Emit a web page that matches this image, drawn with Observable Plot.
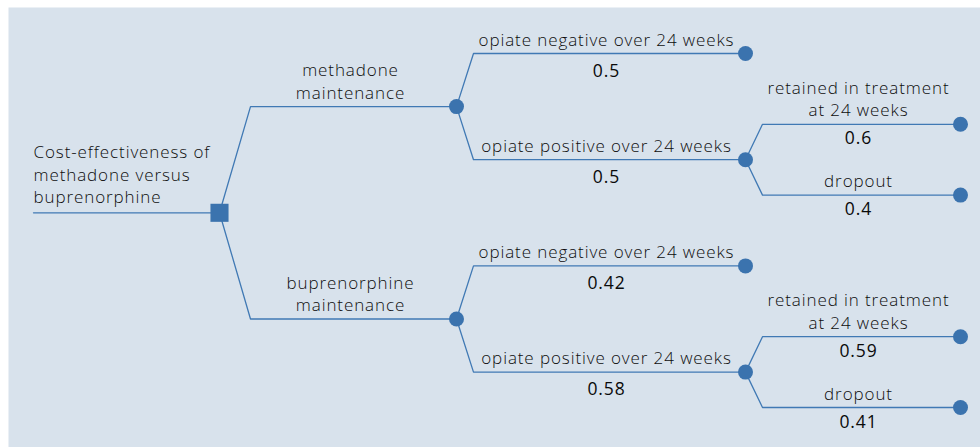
<!DOCTYPE html>
<html><head><meta charset="utf-8">
<script src="https://cdn.jsdelivr.net/npm/d3@7"></script>
<script src="https://cdn.jsdelivr.net/npm/@observablehq/plot@0.6"></script>
<style>body{margin:0;background:#fff} svg{display:block} #chart text{letter-spacing:0.9px}</style>
</head><body><div id="chart"></div>
<script>
// ---- Data: decision tree structure ----
const nodeIds = ["root","meth","bup","meth_neg","meth_pos","meth_ret","meth_drop","bup_neg","bup_pos","bup_ret","bup_drop"];
const parents = [null,"root","root","meth","meth","meth_pos","meth_pos","bup","bup","bup_pos","bup_pos"];
const nodeTypes = ["decision","chance","chance","terminal","chance","terminal","terminal","terminal","chance","terminal","terminal"];
const branchLabels = [
  "Cost-effectiveness of\nmethadone versus\nbuprenorphine",
  "methadone\nmaintenance",
  "buprenorphine\nmaintenance",
  "opiate negative over 24 weeks",
  "opiate positive over 24 weeks",
  "retained in treatment\nat 24 weeks",
  "dropout",
  "opiate negative over 24 weeks",
  "opiate positive over 24 weeks",
  "retained in treatment\nat 24 weeks",
  "dropout"
];
const probabilities = [null,null,null,0.5,0.5,0.6,0.4,0.42,0.58,0.59,0.41];

// ---- Layout (computed from the tree) ----
const colPx = [219, 456, 745, 960];     // x range for depth columns
const bendPx = [31, 17, 17];            // horizontal run of the angled connector
const stemPx = 33;                      // root stem start

const nodes = nodeIds.map((id, i) => ({id, parent: parents[i], type: nodeTypes[i], label: branchLabels[i], p: probabilities[i], children: []}));
const byId = new Map(nodes.map(n => [n.id, n]));
nodes.forEach(n => { if (n.parent) byId.get(n.parent).children.push(n); });
let leafIndex = 0;
(function place(n, depth) {
  n.depth = depth;
  if (n.children.length === 0) { n.pos = leafIndex++; return; }
  n.children.forEach(c => place(c, depth + 1));
  n.pos = d3.mean(n.children, c => c.pos);
})(byId.get("root"), 0);

const seg = d => colPx[d + 1] - colPx[d];
const bendDepth = d => d + bendPx[d] / seg(d);
const stemDepth = -(colPx[0] - stemPx) / seg(0);

const pathPts = [];
const root = byId.get("root");
pathPts.push({edge: "stem", x: stemDepth, y: root.pos}, {edge: "stem", x: 0, y: root.pos});
nodes.filter(n => n.parent).forEach(n => {
  const p = byId.get(n.parent);
  pathPts.push({edge: n.id, x: p.depth, y: p.pos});
  pathPts.push({edge: n.id, x: bendDepth(p.depth), y: n.pos});
  pathPts.push({edge: n.id, x: n.depth, y: n.pos});
});
const edgeNodes = nodes.filter(n => n.parent).map(n => {
  const p = byId.get(n.parent);
  return {...n, mid: (bendDepth(p.depth) + n.depth) / 2};
});
const rootLabel = [{x: stemDepth, pos: root.pos, label: root.label}];

const blue = "#3b73ae";
const textColor = "#0d0d0d";
const font = "'Open Sans', Lato, sans-serif";

const chart = Plot.plot({
  width: 980, height: 447,
  margin: 0,
  x: {type: "linear", domain: [0, 1, 2, 3], range: colPx, axis: null},
  y: {type: "linear", domain: [0, leafIndex - 1], range: [53, 407], axis: null},
  style: {fontFamily: font, background: "transparent", overflow: "visible"},
  marks: [
    Plot.frame({fill: "#d8e2ec", stroke: null, insetLeft: 8, insetTop: 7}),
    Plot.line(pathPts, {x: "x", y: "y", z: "edge", stroke: "#4079b4", strokeWidth: 1.3, curve: "linear"}),
    Plot.dot(nodes.filter(n => n.type !== "decision"), {x: "depth", y: "pos", r: 7.5, fill: blue, stroke: null}),
    Plot.dot(nodes.filter(n => n.type === "decision"), {x: "depth", y: "pos", r: 10.2, symbol: "square", fill: blue, stroke: null}),
    Plot.text(rootLabel, {x: "x", y: "pos", text: "label", textAnchor: "start", lineAnchor: "bottom", dy: -10, fontSize: 17, fontWeight: 300, lineHeight: 1.31, fill: textColor}),
    Plot.text(edgeNodes, {x: "mid", y: "pos", text: "label", textAnchor: "middle", lineAnchor: "bottom", dx: -3, dy: -8, fontSize: 17, fontWeight: 300, lineHeight: 1.31, fill: textColor}),
    Plot.text(edgeNodes.filter(n => n.p != null && n.depth === 2), {x: "mid", y: "pos", text: d => String(d.p), textAnchor: "middle", lineAnchor: "bottom", dx: -3, dy: 23, fontSize: 17.5, fill: "#0a0a0a"}),
    Plot.text(edgeNodes.filter(n => n.p != null && n.depth === 3), {x: "mid", y: "pos", text: d => String(d.p), textAnchor: "middle", lineAnchor: "bottom", dx: -3, dy: 20, fontSize: 17.5, fill: "#0a0a0a"})
  ]
});
document.getElementById("chart").appendChild(chart);
</script>
</body></html>
